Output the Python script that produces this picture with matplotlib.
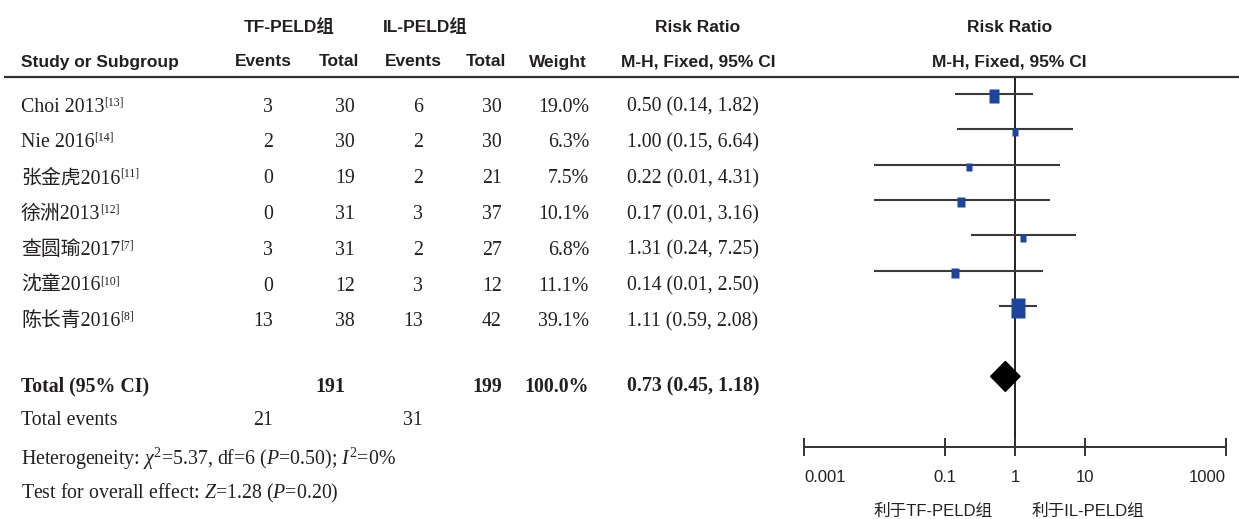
import matplotlib
matplotlib.use("Agg")
import matplotlib.pyplot as plt
from matplotlib.path import Path
from matplotlib.patches import Polygon
from matplotlib.lines import Line2D
from matplotlib.ticker import FixedLocator, FixedFormatter, NullLocator
import numpy as np

# ---------------- data ----------------
studies = ["Choi 2013", "Nie 2016", "张金虎2016", "徐洲2013", "查圆瑜2017", "沈童2016", "陈长青2016"]
refs = ["[13]", "[14]", "[11]", "[12]", "[7]", "[10]", "[8]"]
tf_events = [3, 2, 0, 0, 3, 0, 13]
tf_total = [30, 30, 19, 31, 31, 12, 38]
il_events = [6, 2, 2, 3, 2, 3, 13]
il_total = [30, 30, 21, 37, 27, 12, 42]
weights = [19.0, 6.3, 7.5, 10.1, 6.8, 11.1, 39.1]
rr = [0.50, 1.00, 0.22, 0.17, 1.31, 0.14, 1.11]
rr_lo = [0.14, 0.15, 0.01, 0.01, 0.24, 0.01, 0.59]
rr_hi = [1.82, 6.64, 4.31, 3.16, 7.25, 2.50, 2.08]
total_tf = 191
total_il = 199
total_weight = 100.0
total_rr, total_lo, total_hi = 0.73, 0.45, 1.18
events_tf, events_il = 21, 31
xticks = [0.001, 0.1, 1, 10, 1000]
xtick_labels = ["0.001", "0.1", "1", "10", "1000"]
favours = ["利于TF-PELD组", "利于IL-PELD组"]

# ---------------- setup ----------------
W, H = 1239, 519
DPI = 100
plt.rcParams["mathtext.fontset"] = "custom"
plt.rcParams["mathtext.rm"] = "Liberation Serif"
plt.rcParams["mathtext.it"] = "Liberation Serif:italic"
plt.rcParams["mathtext.bf"] = "Liberation Serif:bold"

TXT = "#231F20"
SERIF = ["Liberation Serif", "Noto Sans CJK SC"]
SANS = ["Liberation Sans", "Noto Sans CJK SC"]
FS_BODY = 14.3
FS_HEAD = 12.5

fig = plt.figure(figsize=(W / DPI, H / DPI), dpi=DPI)
fig.patch.set_facecolor("white")


def T(x, yc, s, ha="left", size=FS_BODY, family=SERIF, weight="normal", cap=6.6, **kw):
    return fig.text(x / W, 1 - (yc + cap) / H, s, ha=ha, va="baseline",
                    fontsize=size, family=family, weight=weight, color=TXT, **kw)


# ---------------- header ----------------
HY1, HY2 = 26, 60
hk = dict(size=FS_HEAD, family=SANS, weight="bold", ha="center", cap=6.5)
T(289, HY1, "TF-PELD组", **hk)
T(425, HY1, "IL-PELD组", **hk)
T(698, HY1, "Risk Ratio", **hk)
T(1010, HY1, "Risk Ratio", **hk)
T(100, HY2, "Study or Subgroup", **hk)
T(263, HY2, "Events", **hk)
T(339, HY2, "Total", **hk)
T(413, HY2, "Events", **hk)
T(486, HY2, "Total", **hk)
T(558, HY2, "Weight", **hk)
T(698, HY2, "M-H, Fixed, 95% CI", **hk)
T(1009, HY2, "M-H, Fixed, 95% CI", **hk)

fig.add_artist(Line2D([5 / W, 1.0], [1 - 77 / H, 1 - 77 / H], color="#333333", lw=1.6,
                      transform=fig.transFigure))

# ---------------- table rows ----------------
renderer = fig.canvas.get_renderer()
row_y = [105 + 35.8 * i for i in range(len(studies))]
for i, y in enumerate(row_y):
    t = T(21, y, studies[i])
    bb = t.get_window_extent(renderer)
    fig.text((bb.x1 - 0.5) / W, 1 - (y + 6.6 - 6.5) / H, refs[i], ha="left", va="baseline",
             fontsize=8.5, family=SERIF, color=TXT)
    T(273, y, str(tf_events[i]), ha="right")
    T(355, y, str(tf_total[i]), ha="right")
    T(423, y, str(il_events[i]), ha="right")
    T(502, y, str(il_total[i]), ha="right")
    T(589, y, f"{weights[i]:.1f}%", ha="right")
    T(627, y, f"{rr[i]:.2f} ({rr_lo[i]:.2f}, {rr_hi[i]:.2f})")

TY = 385
T(21, TY, "Total (95% CI)", weight="bold")
T(345, TY, str(total_tf), ha="right", weight="bold")
T(502, TY, str(total_il), ha="right", weight="bold")
T(589, TY, f"{total_weight:.1f}%", ha="right", weight="bold")
T(627, TY, f"{total_rr:.2f} ({total_lo:.2f}, {total_hi:.2f})", weight="bold")

T(21, 418, "Total events")
T(273, 418, str(events_tf), ha="right")
T(423, 418, str(events_il), ha="right")
T(21, 458, r"Heterogeneity: $\chi^2$=5.37, df=6 ($P$=0.50); $I^2$=0%", family="Liberation Serif")
T(21, 492, r"Test for overall effect: $Z$=1.28 ($P$=0.20)", family="Liberation Serif")

# ---------------- forest plot ----------------
ax_l, ax_r = 804, 1226
ax_t, ax_b = 77, 447
ax = fig.add_axes([ax_l / W, 1 - ax_b / H, (ax_r - ax_l) / W, (ax_b - ax_t) / H])
ax.set_xscale("log")
ax.set_xlim(xticks[0], xticks[-1])
row_px = 35.3
ax.set_ylim(10.0, (ax_t - 94) / row_px)
ax.patch.set_alpha(0)
for s in ["top", "left", "right"]:
    ax.spines[s].set_visible(False)
ax.spines["bottom"].set_color("#333333")
ax.spines["bottom"].set_linewidth(1.4)
ax.yaxis.set_major_locator(NullLocator())
ax.xaxis.set_major_locator(FixedLocator(xticks))
ax.xaxis.set_major_formatter(FixedFormatter(xtick_labels))
ax.xaxis.set_minor_locator(NullLocator())
ax.tick_params(axis="x", direction="inout", length=13, width=1.4, color="#333333",
               labelsize=12, labelcolor=TXT, pad=10)
labs = ax.get_xticklabels()
for lab in labs:
    lab.set_family("Liberation Sans")
labs[0].set_ha("left")
labs[-1].set_ha("right")

ax.axvline(1, color="#222222", lw=1.4, zorder=1)

ypos = np.arange(len(studies))
ax.hlines(ypos, rr_lo, rr_hi, color="#3a3a3a", lw=1.5, zorder=2)
rect = Path([(-0.375, -0.5), (0.375, -0.5), (0.375, 0.5), (-0.375, 0.5), (-0.375, -0.5)],
            [Path.MOVETO, Path.LINETO, Path.LINETO, Path.LINETO, Path.CLOSEPOLY])
for i in range(len(studies)):
    ms = 2.2 * np.sqrt(weights[i])
    ax.plot([rr[i]], [ypos[i] + 0.07], marker=rect, ms=ms, color="#1F449C", mec="none",
            ls="none", zorder=3)

dy = 8.0
hh = 15 / row_px
diamond = Polygon([(total_lo, dy), (total_rr, dy - hh), (total_hi, dy), (total_rr, dy + hh)],
                  closed=True, color="black", zorder=4)
ax.add_patch(diamond)

fk = dict(size=12, family=SANS, ha="center", cap=6.0)
T(933, 510, favours[0], **fk)
T(1088, 510, favours[1], **fk)

fig.savefig("out.png", dpi=DPI, facecolor="white")
